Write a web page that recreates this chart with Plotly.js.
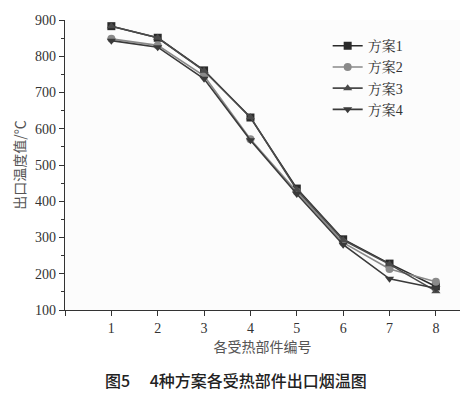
<!DOCTYPE html>
<html><head><meta charset="utf-8">
<script src="https://cdn.plot.ly/plotly-3.0.1.min.js"></script>
<style>body{margin:0;background:#fff}#c{width:471px;height:397px}</style>
</head><body><div id="c"></div>
<script>
const parts = [1,2,3,4,5,6,7,8];
const plan1 = [883, 851, 761, 631, 435, 295, 228, 165];
const plan2 = [848, 830, 746, 571, 426, 286, 213, 178];
const plan3 = [883, 851, 760, 632, 432, 293, 226, 152];
const plan4 = [843, 825, 738, 568, 420, 280, 186, 160];
const names = ['方案1','方案2','方案3','方案4'];
const xTickVals = [0,1,2,3,4,5,6,7,8];
const xTickText = ['','1','2','3','4','5','6','7','8'];

const serif = 'Liberation Serif, Noto Serif CJK SC, Noto Sans CJK SC, serif';
function tr(y, name, sym, col){
  return {x: parts, y: y, name: name, type:'scatter', mode:'lines+markers',
    line:{color: col, width:1.6}, marker:{symbol: sym, size:8, color: col}};
}
const data = [
  tr(plan1, names[0], 'square', '#2a2a2a'),
  tr(plan2, names[1], 'circle', '#8a8a8a'),
  tr(plan3, names[2], 'triangle-up', '#4a4a4a'),
  tr(plan4, names[3], 'triangle-down', '#3a3a3a')
];
const layout = {
  width:471, height:397,
  margin:{l:65, r:11, t:20, b:87},
  paper_bgcolor:'#ffffff', plot_bgcolor:'#fcfcfc',
  showlegend:true,
  legend:{x:0.665, y:0.965, xanchor:'left', yanchor:'top', bgcolor:'rgba(0,0,0,0)',
    font:{family:serif, size:14, color:'#333'}, tracegroupgap:0, itemwidth:30},
  xaxis:{range:[0,8.52], tickvals:xTickVals, ticktext:xTickText, showgrid:false, zeroline:false,
    showline:true, linecolor:'#333', linewidth:1.3, ticks:'outside', ticklen:5, tickcolor:'#333',
    tickfont:{family:serif, size:14, color:'#333'},
    title:{text:'各受热部件编号', font:{family:'Noto Sans CJK SC, sans-serif', size:14, color:'#555'}, standoff:4}},
  yaxis:{range:[100,900], dtick:100, showgrid:false, zeroline:false,
    showline:true, linecolor:'#333', linewidth:1.3, ticks:'outside', ticklen:5, tickcolor:'#333',
    tickfont:{family:serif, size:14, color:'#333'},
    minor:{dtick:50, ticks:'outside', ticklen:3, tickcolor:'#333', showgrid:false},
    title:{text:'出口温度值/℃', font:{family:'Noto Sans CJK SC, sans-serif', size:14, color:'#555'}, standoff:6}},
  annotations:[{text:'图5　 4种方案各受热部件出口烟温图', xref:'paper', yref:'paper',
    x:0.433, y:-0.241, xanchor:'center', yanchor:'middle', showarrow:false,
    font:{family:'Noto Sans CJK SC, sans-serif', size:16, color:'#222', weight:500}}]
};
Plotly.newPlot('c', data, layout, {displayModeBar:false, staticPlot:true});
</script></body></html>
